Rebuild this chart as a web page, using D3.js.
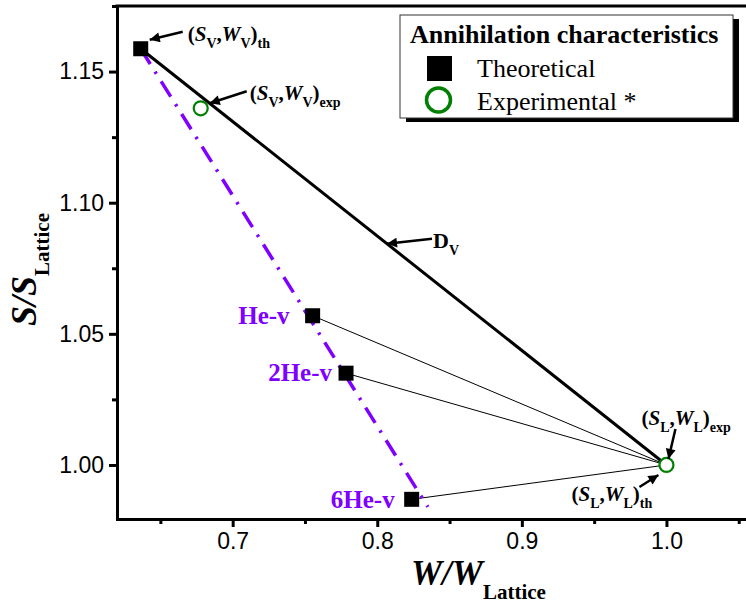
<!DOCTYPE html>
<html><head><meta charset="utf-8">
<script src="https://cdn.jsdelivr.net/npm/d3@7"></script>
<style>
html,body{margin:0;padding:0;background:#fff;}
svg{display:block;}
</style></head>
<body>
<svg id="chart" width="746" height="607"></svg>
<script>
// ---- data ----
const theoW = [0.6364, 0.7553, 0.7784, 0.8238, 1.0];
const theoS = [1.1587, 1.0569, 1.0350, 0.9869, 1.0];
const theoNames = ["V", "He-v", "2He-v", "6He-v", "L"];
const expW = [0.6779, 1.0];
const expS = [1.1360, 1.0];
const fitW = [0.6364, 0.835];
const fitS = [1.1587, 0.984];
const xTicks = [0.7, 0.8, 0.9, 1.0];
const xMinor = [0.65, 0.75, 0.85, 0.95, 1.05];
const yTicks = [1.00, 1.05, 1.10, 1.15];
const yMinor = [1.025, 1.075, 1.125, 1.175];
const legendTitle = "Annihilation characteristics";
const legendItems = ["Theoretical", "Experimental *"];

const svg = d3.select("#chart");
const SERIF = "'Liberation Serif','Times New Roman',serif";
const SANS = "'Liberation Sans',Arial,sans-serif";
const PURPLE = "#8000ff";
const GREEN = "#008000";

const x = d3.scaleLinear().domain([0.62, 1.06]).range([117, 753.2]);
const y = d3.scaleLinear().domain([0.9794, 1.175]).range([519, 6]);

// arrow marker
svg.append("defs").append("marker")
  .attr("id", "arr").attr("viewBox", "0 0 10 10").attr("refX", 10).attr("refY", 5)
  .attr("markerWidth", 5).attr("markerHeight", 4).attr("markerUnits", "strokeWidth")
  .attr("orient", "auto")
  .append("path").attr("d", "M0,0 L10,5 L0,10 z").attr("fill", "#000");

// ---- axes ----
const gx = svg.append("g").attr("transform", `translate(0,${y.range()[0]})`);
gx.call(d3.axisBottom(x).tickValues(xTicks).tickSize(8).tickSizeOuter(0).tickPadding(6).tickFormat(d3.format(".1f")));
const gxm = svg.append("g").attr("transform", `translate(0,${y.range()[0]})`);
gxm.call(d3.axisBottom(x).tickValues(xMinor).tickSize(5).tickSizeOuter(0).tickFormat(""));
const gy = svg.append("g").attr("transform", `translate(${x.range()[0]},0)`);
gy.call(d3.axisLeft(y).tickValues(yTicks).tickSize(8).tickSizeOuter(0).tickPadding(5).tickFormat(d3.format(".2f")));
const gym = svg.append("g").attr("transform", `translate(${x.range()[0]},0)`);
gym.call(d3.axisLeft(y).tickValues(yMinor).tickSize(5).tickSizeOuter(0).tickFormat(""));
[gx, gxm, gy, gym].forEach(g => {
  g.select(".domain").attr("stroke", "#000").attr("stroke-width", 3).attr("stroke-linecap", "square");
  g.selectAll(".tick line").attr("stroke", "#000").attr("stroke-width", 3);
  g.selectAll(".tick text").attr("font-family", SANS).attr("font-size", 23).attr("fill", "#000");
});
// top frame line
svg.append("line").attr("x1", x.range()[0]).attr("x2", x.range()[1])
  .attr("y1", y.range()[1]).attr("y2", y.range()[1])
  .attr("stroke", "#000").attr("stroke-width", 3).attr("stroke-linecap", "square");

// ---- rich text helper ----
function rich(parent, px, py, segs, anchor) {
  const t = parent.append("text").attr("x", px).attr("y", py)
    .attr("font-family", SERIF).attr("fill", "#000");
  if (anchor) t.attr("text-anchor", anchor);
  let cur = 0;
  segs.forEach(s => {
    const sh = s.sub ? s.sub : 0;
    t.append("tspan").text(s.t)
      .attr("font-size", s.size)
      .attr("font-weight", "bold")
      .attr("font-style", s.i ? "italic" : "normal")
      .attr("dy", sh - cur);
    cur = sh;
  });
  return t;
}
function pair(a, b, sfx, big, small) {
  const sh = 7;
  return [
    {t: "(", size: big},
    {t: "S", size: big, i: true},
    {t: a, size: small, sub: sh},
    {t: ",", size: big},
    {t: "W", size: big, i: true},
    {t: b, size: small, sub: sh},
    {t: ")", size: big},
    {t: sfx, size: small, sub: sh}
  ];
}

// ---- lines ----
const line = d3.line().x(d => x(d[0])).y(d => y(d[1]));
// D_V line
svg.append("path").datum([[theoW[0], theoS[0]], [theoW[4], theoS[4]]])
  .attr("d", line).attr("stroke", "#000").attr("stroke-width", 3).attr("fill", "none");
// thin lines from He-v complexes to lattice
[1, 2, 3].forEach(i => {
  svg.append("path").datum([[theoW[i], theoS[i]], [theoW[4], theoS[4]]])
    .attr("d", line).attr("stroke", "#000").attr("stroke-width", 1).attr("fill", "none");
});
// purple dash-dot line
svg.append("path").datum(fitW.map((w, i) => [w, fitS[i]]))
  .attr("d", line).attr("stroke", PURPLE).attr("stroke-width", 3.5)
  .attr("stroke-dasharray", "18,9,2.5,9").attr("fill", "none");

// ---- markers ----
const sq = 15;
svg.selectAll("rect.theo").data(theoW.slice(0, 4).map((w, i) => [w, theoS[i]])).enter()
  .append("rect").attr("class", "theo")
  .attr("x", d => x(d[0]) - sq / 2).attr("y", d => y(d[1]) - sq / 2)
  .attr("width", sq).attr("height", sq).attr("fill", "#000");
svg.selectAll("circle.exp").data(expW.map((w, i) => [w, expS[i]])).enter()
  .append("circle").attr("class", "exp")
  .attr("cx", d => x(d[0])).attr("cy", d => y(d[1])).attr("r", 7)
  .attr("fill", "#fff").attr("stroke", GREEN).attr("stroke-width", 2.2);

// ---- labels for He-v complexes ----
const heOff = [null, [-23, 8], [-14, 8], [-17, 9]];
[1, 2, 3].forEach(i => {
  svg.append("text").attr("x", x(theoW[i]) + heOff[i][0]).attr("y", y(theoS[i]) + heOff[i][1])
    .attr("text-anchor", "end").attr("font-family", SERIF).attr("font-weight", "bold")
    .attr("font-size", 25).attr("fill", PURPLE).text(theoNames[i]);
});

// ---- annotations ----
function arrow(x1, y1, x2, y2) {
  svg.append("line").attr("x1", x1).attr("y1", y1).attr("x2", x2).attr("y2", y2)
    .attr("stroke", "#000").attr("stroke-width", 2.5).attr("marker-end", "url(#arr)");
}
const vTh = [x(theoW[0]), y(theoS[0])];
const vEx = [x(expW[0]), y(expS[0])];
const lTh = [x(theoW[4]), y(theoS[4])];
rich(svg, vTh[0] + 47, vTh[1] - 8, pair("V", "V", "th", 21, 14));
arrow(vTh[0] + 42, vTh[1] - 17, vTh[0] + 9, vTh[1] - 9);
rich(svg, vEx[0] + 49, vEx[1] - 8, pair("V", "V", "exp", 21, 14));
arrow(vEx[0] + 46, vEx[1] - 17, vEx[0] + 9, vEx[1] - 5);
// D_V
const dvX = 387;
const dvY = y(theoS[0] + (theoS[4] - theoS[0]) * (x.invert(dvX) - theoW[0]) / (theoW[4] - theoW[0]));
rich(svg, dvX + 46, dvY + 4, [{t: "D", size: 22}, {t: "V", size: 14, sub: 7}]);
arrow(dvX + 45, dvY - 5, dvX, dvY);
// lattice
rich(svg, lTh[0] - 25, lTh[1] - 40, pair("L", "L", "exp", 21, 14));
arrow(lTh[0] + 9, lTh[1] - 36, lTh[0] + 2, lTh[1] - 6);
rich(svg, lTh[0] - 95, lTh[1] + 36, pair("L", "L", "th", 21, 14));
arrow(lTh[0] - 27, lTh[1] + 22, lTh[0] - 8, lTh[1] + 10);

// ---- y axis title ----
const yt = svg.append("g").attr("transform", "translate(36,326) rotate(-90)");
rich(yt, 0, 0, [{t: "S/S", size: 36, i: true}, {t: "Lattice", size: 21, sub: 13}]);
// ---- x axis title ----
rich(svg, 411, 585, [{t: "W/W", size: 35, i: true}, {t: "Lattice", size: 21, sub: 14}]);

// ---- legend ----
const lg = svg.append("g").attr("transform", "translate(400,15)");
lg.append("rect").attr("x", 6).attr("y", 4).attr("width", 333).attr("height", 103).attr("fill", "#000");
lg.append("rect").attr("x", 0).attr("y", 0).attr("width", 333).attr("height", 103)
  .attr("fill", "#fff").attr("stroke", "#333").attr("stroke-width", 1);
lg.append("text").attr("x", 10).attr("y", 28).attr("font-family", SERIF).attr("font-weight", "bold")
  .attr("font-size", 26).attr("fill", "#000").text(legendTitle);
lg.append("rect").attr("x", 27).attr("y", 41).attr("width", 25).attr("height", 25).attr("fill", "#000");
lg.append("circle").attr("cx", 38.5).attr("cy", 85).attr("r", 12).attr("fill", "none")
  .attr("stroke", GREEN).attr("stroke-width", 3.5);
legendItems.forEach((t, i) => {
  lg.append("text").attr("x", 77).attr("y", 62 + i * 33).attr("font-family", SERIF)
    .attr("font-size", 26).attr("fill", "#000").text(t);
});
</script>
</body></html>
